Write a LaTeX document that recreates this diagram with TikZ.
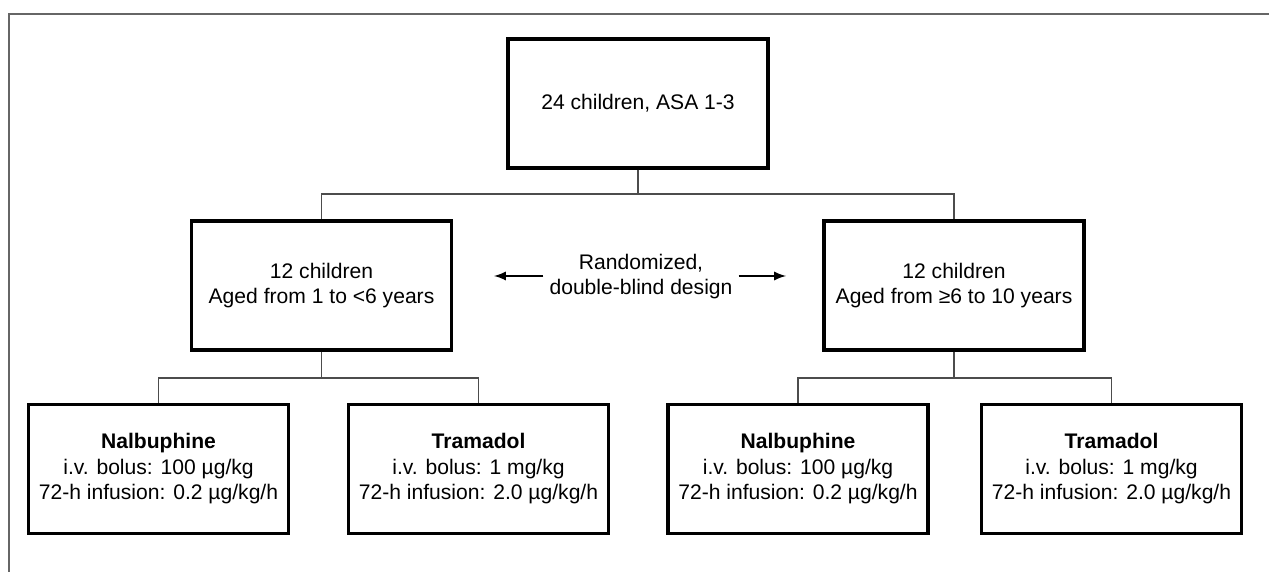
\documentclass[tikz,border=0pt]{standalone}
\usepackage{fontspec}
\setmainfont{Liberation Sans}
\usetikzlibrary{arrows}

\begin{document}
\begin{tikzpicture}[ txt/.style={align=center,font={\fontsize{12}{14.5}\selectfont}},
    box/.style={txt,draw,line width=1.8pt,
        minimum width=5.2cm,minimum height=2.58cm},
    link/.style={draw=black!70,line width=1.1pt}]
\useasboundingbox (0,0) rectangle (25.38,11.44);
\draw[black!60,line width=1pt](0.18,0)--(0.18,11.16)--(25.38,11.16);
% groups
\node[box] (all) at (12.76,9.37) {24 children, ASA 1-3};
\node[box] (young) at (6.43,5.73) {12 children\\Aged from 1 to <6 years};
\node[box] (old) at (19.08,5.73) {12 children\\Aged from ≥6 to 10 years};
\node[txt] (rand) at (12.82,5.91) {Randomized,\\double-blind design};
% drugs
\node[box] (nalY) at (3.17,2.06) {\textbf{Nalbuphine}\\i.v. bolus: 100 µg/kg\\72-h infusion: 0.2 µg/kg/h};
\node[box] (traY) at (9.57,2.06) {\textbf{Tramadol}\\i.v. bolus: 1 mg/kg\\72-h infusion: 2.0 µg/kg/h};
\node[box] (nalO) at (15.96,2.06) {\textbf{Nalbuphine}\\i.v. bolus: 100 µg/kg\\72-h infusion: 0.2 µg/kg/h};
\node[box] (traO) at (22.23,2.06) {\textbf{Tramadol}\\i.v. bolus: 1 mg/kg\\72-h infusion: 2.0 µg/kg/h};
\coordinate (split) at (12.76,7.56);
\coordinate (splitY) at (6.43,3.88);
\coordinate (splitO) at (19.08,3.88);
\coordinate (tipL) at (9.88,5.92);
\coordinate (tipR) at (15.72,5.92);
\draw[link](all.south)--(split)-|(young.north);
\draw[link](split)-|(old.north);
\draw[link](young.south)--(splitY)-|(nalY.north);
\draw[link](splitY)-|(traY.north);
\draw[link](old.south)--(splitO)-|(nalO.north);
\draw[link](splitO)-|(traO.north);
\draw[-latex,line width=1.3pt](rand.west|-tipL)--(tipL);
\draw[-latex,line width=1.3pt](rand.east|-tipR)--(tipR);

\end{tikzpicture}
\end{document}
